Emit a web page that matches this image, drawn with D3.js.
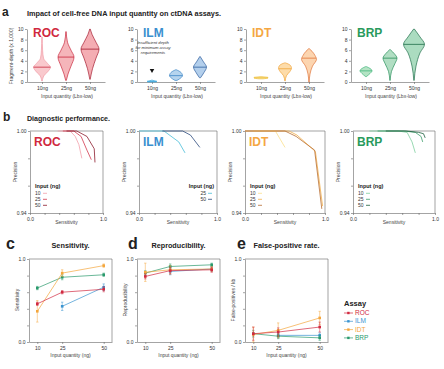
<!DOCTYPE html>
<html>
<head>
<meta charset="utf-8">
<script src="https://cdn.jsdelivr.net/npm/d3@7"></script>
<style>
  body { margin: 0; background: #fff; }
  svg { display: block; font-family: "Liberation Sans", Arial, sans-serif; }
  .axis path, .axis line { stroke: #666; stroke-width: 0.6; }
  .axis text { font-size: 5px; fill: #333; font-family: "Liberation Sans", Arial, sans-serif; }
</style>
</head>
<body>
<script>

var assays = ['ROC', 'ILM', 'IDT', 'BRP'];
var inputs = ['10ng', '25ng', '50ng'];
var inputNg = [10, 25, 50];
var assayColor = ['#d12a40', '#3a94d0', '#f4a63c', '#2a9a6c'];
var titleColor = ['#d0283e', '#3a8fcf', '#f5a742', '#2a9a5c'];

// a. violin outlines: depth (x 1,000) and relative half width, per input
var rocDepth  = [[0.2, 1.2, 2.0, 2.8, 3.5, 4.5, 6.0, 8.5], [0.3, 1.5, 3.0, 4.7, 6.0, 7.5, 9.5], [0.5, 2.5, 4.5, 6.2, 7.5, 9.0, 10]];
var rocWidth  = [[0.03, 0.2, 0.6, 0.85, 0.55, 0.15, 0.06, 0.02], [0.03, 0.2, 0.5, 0.8, 0.5, 0.15, 0.02], [0.02, 0.25, 0.6, 0.9, 0.6, 0.2, 0.02]];
var rocMedian = [2.8, 4.7, 6.2];
var ilmDepth  = [[0, 0.1, 0.2, 0.35], [0.3, 0.8, 1.2, 1.8, 2.3], [0.8, 1.8, 2.8, 3.8, 4.8]];
var ilmWidth  = [[0.3, 0.5, 0.3, 0.02], [0.1, 0.5, 0.65, 0.5, 0.05], [0.05, 0.4, 0.65, 0.35, 0.02]];
var ilmMedian = [0.12, 1.2, 2.8];
var idtDepth  = [[0.6, 0.75, 0.85, 1.0], [0.2, 1.2, 2.0, 2.6, 3.2, 3.6], [0, 1.5, 3.0, 4.3, 5.0, 5.8, 6.3]];
var idtWidth  = [[0.2, 0.7, 0.7, 0.1], [0.02, 0.15, 0.5, 0.65, 0.5, 0.05], [0.02, 0.1, 0.35, 0.75, 0.6, 0.3, 0.02]];
var idtMedian = [0.8, 2.5, 4.5];
var brpDepth  = [[1.0, 1.6, 2.1, 2.5, 2.9], [0.3, 2.0, 3.5, 4.5, 5.3, 6.1], [0.3, 3.0, 5.5, 7.1, 8.5, 10]];
var brpWidth  = [[0.02, 0.4, 0.6, 0.45, 0.05], [0.02, 0.15, 0.5, 0.7, 0.45, 0.03], [0.02, 0.2, 0.6, 1.05, 0.6, 0.03]];
var brpMedian = [2.1, 4.5, 7.1];
var depthTicks = [0, 2, 4, 6, 8, 10];

// b. precision / sensitivity curves per input (ILM has no 10ng curve)
var rocSens = [[0.38, 0.55, 0.62, 0.67, 0.71], [0.45, 0.60, 0.70, 0.78, 0.84], [0.50, 0.64, 0.78, 0.88, 0.89]];
var rocPrec = [[1.0, 1.0, 0.996, 0.990, 0.980], [1.0, 1.0, 0.996, 0.986, 0.979], [1.0, 1.0, 0.996, 0.987, 0.977]];
var ilmSens = [null, [0.0, 0.32, 0.51, 0.59], [0.30, 0.56, 0.66, 0.78]];
var ilmPrec = [null, [1.0, 1.0, 0.992, 0.984], [1.0, 1.0, 0.997, 0.988]];
var idtSens = [[0.10, 0.38, 0.44, 0.50], [0.0, 0.55, 0.65, 0.88, 0.97], [0.0, 0.50, 0.64, 0.87, 0.96]];
var idtPrec = [[1.0, 1.0, 0.994, 0.988], [1.0, 1.0, 0.997, 0.985, 0.945], [1.0, 1.0, 0.996, 0.986, 0.943]];
var brpSens = [[0.20, 0.55, 0.66, 0.72, 0.76], [0.30, 0.62, 0.76, 0.83, 0.85], [0.40, 0.65, 0.80, 0.86, 0.88]];
var brpPrec = [[1.0, 1.0, 0.999, 0.992, 0.984], [1.0, 1.0, 0.999, 0.996, 0.992], [1.0, 1.0, 0.999, 0.998, 0.995]];

// c, d, e. mean and error per assay at 10, 25, 50 ng
var sensMean = [[0.46, 0.60, 0.635], [null, 0.43, 0.66], [0.37, 0.83, 0.92], [0.65, 0.78, 0.81]];
var sensErr  = [[0.02, 0.02, 0.03], [null, 0.05, 0.04], [0.13, 0.04, 0.02], [0.02, 0.03, 0.02]];
var repMean  = [[0.79, 0.86, 0.87], [null, 0.85, 0.88], [0.84, 0.87, 0.88], [0.83, 0.91, 0.93]];
var repErr   = [[0.03, 0.04, 0.03], [null, 0.04, 0.03], [0.11, 0.05, 0.03], [0.03, 0.03, 0.02]];
var fpMean   = [[0.10, 0.12, 0.18], [null, 0.08, 0.08], [0.09, 0.14, 0.29], [0.10, 0.07, 0.05]];
var fpErr    = [[0.08, 0.05, 0.06], [null, 0.03, 0.03], [0.09, 0.09, 0.08], [0.04, 0.03, 0.03]];

var violinDepth  = [rocDepth, ilmDepth, idtDepth, brpDepth];
var violinWidth  = [rocWidth, ilmWidth, idtWidth, brpWidth];
var violinMedian = [rocMedian, ilmMedian, idtMedian, brpMedian];
var violinFill   = [['#f9c9cd', '#f5b5ba', '#f4adb3'], ['#a9d3ef', '#b5d4ee', '#b3cfec'], ['#fde7a1', '#fddcaa', '#fcd5b0'], ['#b4e3c4', '#b1dec3', '#abdcc0']];
var violinStroke = [['#f19aa5', '#c9283e', '#a51c30'], ['#3aa7dc', '#3d86c6', '#2f5f9e'], ['#eec040', '#f0a438', '#e0743a'], ['#3fb57a', '#2a8f5b', '#1f6e4a']];
var prSens  = [rocSens, ilmSens, idtSens, brpSens];
var prPrec  = [rocPrec, ilmPrec, idtPrec, brpPrec];
var prColor = [['#f2a0ab', '#d2384e', '#8c1a2c'], [null, '#47bcd8', '#2c4a7c'], ['#fbe08a', '#f2b04a', '#b86d32'], ['#7fcfa0', '#3b9e6a', '#1c5e3e']];

var svg = d3.select('body').append('svg').attr('width', 444).attr('height', 369);

function label(x, y, str, size, opts) {
  opts = opts || {};
  var t = svg.append('text').attr('x', x).attr('y', y).text(str)
    .attr('font-size', size).attr('fill', opts.fill || '#222')
    .attr('font-weight', opts.bold ? 'bold' : null)
    .attr('font-style', opts.italic ? 'italic' : null)
    .attr('text-anchor', opts.anchor || 'start');
  if (opts.len) t.attr('textLength', opts.len).attr('lengthAdjust', 'spacingAndGlyphs');
  if (opts.rotate) t.attr('transform', 'rotate(-90,' + x + ',' + y + ')');
  return t;
}

// ---------- a. violins ----------
label(2, 16, 'a', 12, {bold: true});
label(27, 15.5, 'Impact of cell-free DNA input quantity on ctDNA assays.', 7, {bold: true, len: 194});
label(13, 56, 'Fragment-depth (x 1,000)', 5, {anchor: 'middle', rotate: true, fill: '#444'});

var aLeft = [27, 137, 246, 351];
var yA = d3.scaleLinear().domain([0, 10]).range([82, 29]);

assays.forEach(function(name, i) {
  var x0 = aLeft[i];
  var xA = d3.scalePoint().domain(inputs).range([x0, x0 + 78]).padding(0.625);

  svg.append('g').attr('class', 'axis').attr('transform', 'translate(' + x0 + ',0)')
    .call(d3.axisLeft(yA).tickValues(depthTicks).tickSize(2).tickPadding(1.5).tickSizeOuter(0));
  svg.append('g').attr('class', 'axis').attr('transform', 'translate(0,82)')
    .call(d3.axisBottom(xA).tickSize(2).tickPadding(2).tickSizeOuter(0));

  inputs.forEach(function(inp, j) {
    var cx = xA(inp);
    var depth = violinDepth[i][j], width = violinWidth[i][j];
    var pts = depth.map(function(v, k) { return {v: v, w: width[k]}; });
    var area = d3.area()
      .y(function(d) { return yA(d.v); })
      .x0(function(d) { return cx - d.w * 10; })
      .x1(function(d) { return cx + d.w * 10; })
      .curve(d3.curveMonotoneY);
    svg.append('path').attr('d', area(pts))
      .attr('fill', violinFill[i][j]).attr('stroke', violinStroke[i][j]).attr('stroke-width', 0.7);
    var wAt = d3.scaleLinear().domain(depth).range(width);
    var hw = wAt(violinMedian[i][j]) * 10;
    var my = yA(violinMedian[i][j]);
    svg.append('line').attr('x1', cx - hw).attr('x2', cx + hw).attr('y1', my).attr('y2', my)
      .attr('stroke', violinStroke[i][j] === '#f19aa5' ? '#c9283e' : violinStroke[i][j]).attr('stroke-width', 0.8);
  });

  label(x0 + 6, 37, name, 12, {bold: true, fill: titleColor[i]});
  label(x0 + 40, 98, 'Input quantity (Lbx-low)', 5, {anchor: 'middle', fill: '#444'});

  if (name === 'ILM') {
    var cx10 = xA('10ng');
    label(cx10 + 1, 44, 'Insufficient depth', 4.2, {anchor: 'middle', italic: true, fill: '#333'});
    label(cx10 + 1, 49.2, 'for minimum assay', 4.2, {anchor: 'middle', italic: true, fill: '#333'});
    label(cx10 + 1, 54.4, 'requirements', 4.2, {anchor: 'middle', italic: true, fill: '#333'});
    svg.append('path').attr('d', d3.symbol().type(d3.symbolTriangle).size(9)())
      .attr('transform', 'translate(' + cx10 + ',' + yA(2.2) + ') rotate(180)').attr('fill', '#111');
  }
});

// ---------- b. precision / sensitivity ----------
label(3, 121, 'b', 12, {bold: true});
label(27, 121, 'Diagnostic performance.', 7, {bold: true, len: 83});

var bLeft = [30, 139, 245, 353];
var bRight = [103, 217, 325, 435];
var yB = d3.scaleLinear().domain([0.94, 1]).range([213, 131]);

assays.forEach(function(name, i) {
  var l = bLeft[i], r = bRight[i];
  var xB = d3.scaleLinear().domain([0, 1]).range([l, r]);

  svg.append('g').attr('class', 'axis').attr('transform', 'translate(' + l + ',0)')
    .call(d3.axisLeft(yB).tickValues([0.94, 0.96, 0.98, 1.0]).tickSize(2).tickPadding(1.5).tickSizeOuter(0)
      .tickFormat(function(d) { return (d === 0.94 || d === 1) ? d3.format('.2f')(d) : ''; }));
  svg.append('g').attr('class', 'axis').attr('transform', 'translate(0,213)')
    .call(d3.axisBottom(xB).tickValues([0, 0.2, 0.4, 0.6, 0.8, 1.0]).tickSize(2).tickPadding(2).tickSizeOuter(0)
      .tickFormat(function(d) { return (d === 0 || d === 1) ? d3.format('.1f')(d) : ''; }));
  svg.append('path').attr('d', 'M' + l + ',131H' + r + 'V213')
    .attr('fill', 'none').attr('stroke', '#666').attr('stroke-width', 0.6);

  var line = d3.line().x(function(d) { return xB(d[0]); }).y(function(d) { return yB(d[1]); });
  inputs.forEach(function(inp, j) {
    if (!prSens[i][j]) return;
    var pts = prSens[i][j].map(function(s, k) { return [s, prPrec[i][j][k]]; });
    svg.append('path').attr('d', line(pts)).attr('fill', 'none')
      .attr('stroke', prColor[i][j]).attr('stroke-width', 0.8);
  });

  label(l + 4, 145.5, name, 12, {bold: true, fill: titleColor[i]});
  label(l - 13, 172, 'Precision', 5, {anchor: 'middle', rotate: true, fill: '#444'});
  label((l + r) / 2, 224, 'Sensitivity', 5, {anchor: 'middle', fill: '#444'});

  // legend
  var rows = inputs.map(function(inp, j) { return j; }).filter(function(j) { return prSens[i][j]; });
  var right = (name === 'ILM');
  var lx = right ? r - 3 : l + 5;
  label(lx, 188, 'Input (ng)', 5.5, {bold: true, anchor: right ? 'end' : 'start'});
  rows.forEach(function(j, k) {
    var ry = 195 + k * 6;
    var tx = right ? lx - 8 : lx;
    label(tx, ry, String(inputNg[j]), 5, {anchor: right ? 'end' : 'start', fill: '#333'});
    var sx = right ? lx - 6 : lx + 8;
    svg.append('line').attr('x1', sx).attr('x2', sx + 4).attr('y1', ry - 1.7).attr('y2', ry - 1.7)
      .attr('stroke', prColor[i][j]).attr('stroke-width', 0.8);
  });
});

// ---------- c, d, e. summary metrics ----------
var cdeLetter = ['c', 'd', 'e'];
var cdeLetterX = [6, 128, 237];
var cdeTitle  = ['Sensitivity.', 'Reproducibility.', 'False-positive rate.'];
var cdeTitleW = [38, 54, 66];
var cdeYLabel = ['Sensitivity', 'Reproducibility', 'False-positives / kb'];
var cdeMean = [sensMean, repMean, fpMean];
var cdeErr  = [sensErr, repErr, fpErr];
var cdeLeft = [29, 137, 245];
var drawOrder = [1, 3, 2, 0];
var yC = d3.scaleLinear().domain([0, 1]).range([342, 259]);

cdeLetter.forEach(function(letter, p) {
  var l = cdeLeft[p], r = l + 83;
  var xC = d3.scaleLinear().domain([5, 55]).range([l, r]);

  label(cdeLetterX[p], 249, letter, 16, {bold: true});
  label((l + r) / 2, 248, cdeTitle[p], 7, {bold: true, anchor: 'middle', len: cdeTitleW[p]});

  svg.append('g').attr('class', 'axis').attr('transform', 'translate(' + l + ',0)')
    .call(d3.axisLeft(yC).tickValues([0, 0.2, 0.4, 0.6, 0.8, 1.0]).tickSize(2).tickPadding(1.5).tickSizeOuter(0)
      .tickFormat(function(d) { return (d === 0 || d === 1) ? d3.format('.1f')(d) : ''; }));
  svg.append('g').attr('class', 'axis').attr('transform', 'translate(0,342)')
    .call(d3.axisBottom(xC).tickValues(inputNg).tickSize(2).tickPadding(2).tickSizeOuter(0));
  svg.append('path').attr('d', 'M' + l + ',259H' + r + 'V342')
    .attr('fill', 'none').attr('stroke', '#666').attr('stroke-width', 0.6);

  label(l - 10, 300, cdeYLabel[p], 5, {anchor: 'middle', rotate: true, fill: '#444'});
  label((l + r) / 2, 357, 'Input quantity (ng)', 5, {anchor: 'middle', fill: '#444'});

  drawOrder.forEach(function(i) {
    var pts = [];
    inputNg.forEach(function(ng, j) {
      var m = cdeMean[p][i][j];
      if (m === null) return;
      pts.push({x: xC(ng), m: m, e: cdeErr[p][i][j]});
    });
    var line = d3.line().x(function(d) { return d.x; }).y(function(d) { return yC(d.m); });
    svg.append('path').attr('d', line(pts)).attr('fill', 'none')
      .attr('stroke', assayColor[i]).attr('stroke-width', 0.7);
    pts.forEach(function(d) {
      var y1 = yC(d.m - d.e), y2 = yC(d.m + d.e);
      svg.append('path').attr('d', 'M' + d.x + ',' + y1 + 'V' + y2 +
          'M' + (d.x - 1.2) + ',' + y1 + 'h2.4M' + (d.x - 1.2) + ',' + y2 + 'h2.4')
        .attr('stroke', assayColor[i]).attr('stroke-width', 0.5).attr('fill', 'none');
      svg.append('rect').attr('x', d.x - 1.3).attr('y', yC(d.m) - 1.3).attr('width', 2.6).attr('height', 2.6)
        .attr('fill', assayColor[i]);
    });
  });
});

// assay legend
label(344, 306, 'Assay', 7.5, {bold: true});
assays.forEach(function(name, i) {
  var ry = 315 + i * 8.3;
  svg.append('line').attr('x1', 344).attr('x2', 353).attr('y1', ry - 2).attr('y2', ry - 2)
    .attr('stroke', assayColor[i]).attr('stroke-width', 0.7);
  svg.append('rect').attr('x', 347.2).attr('y', ry - 3.2).attr('width', 2.4).attr('height', 2.4).attr('fill', assayColor[i]);
  label(355, ry, name, 6.5, {fill: assayColor[i]});
});

</script>
</body>
</html>
